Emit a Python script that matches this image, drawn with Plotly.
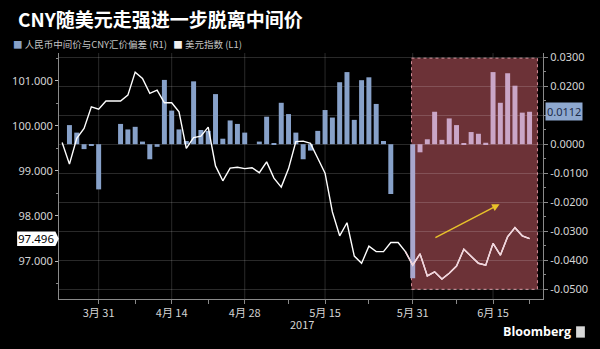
import plotly.graph_objects as go

# ---------------- data ----------------
dates = [
    "03-24", "03-27", "03-28", "03-29", "03-30", "03-31",
    "04-03", "04-04", "04-05", "04-06", "04-07",
    "04-10", "04-11", "04-12", "04-13", "04-14",
    "04-17", "04-18", "04-19", "04-20", "04-21",
    "04-24", "04-25", "04-26", "04-27", "04-28",
    "05-01", "05-02", "05-03", "05-04", "05-05",
    "05-08", "05-09", "05-10", "05-11", "05-12",
    "05-15", "05-16", "05-17", "05-18", "05-19",
    "05-22", "05-23", "05-24", "05-25", "05-26",
    "05-29", "05-30", "05-31", "06-01", "06-02",
    "06-05", "06-06", "06-07", "06-08", "06-09",
    "06-12", "06-13", "06-14", "06-15", "06-16",
    "06-19", "06-20", "06-21", "06-22",
]

# CNY fixing vs spot deviation (R1)
deviation = [
    None, 0.0066, 0.0040, -0.0017, -0.0003, -0.0156,
    None, None, 0.0070, 0.0051, 0.0060,
    0.0009, -0.0052, -0.0009, 0.0222, 0.0116,
    0.0051, 0.0011, 0.0217, 0.0049, 0.0046,
    0.0173, 0.0019, 0.0082, 0.0070, 0.0040,
    None, 0.0009, 0.0095, 0.0002, 0.0143,
    0.0104, 0.0040, -0.0052, -0.0022, 0.0046,
    0.0118, 0.0092, 0.0214, 0.0249, 0.0084,
    0.0221, 0.0231, 0.0139, 0.0011, -0.0172,
    None, None, -0.0463, -0.0028, 0.0017,
    0.0112, 0.0015, 0.0089, 0.0066, 0.0002,
    0.0042, 0.0036, 0.0005, 0.0249, 0.0143,
    0.0245, 0.0202, 0.0109, 0.0112,
]

# Dollar index (L1)
dxy = [
    99.63, 99.15, 99.72, 99.94, 100.42, 100.37,
    100.55, 100.55, 100.55, 100.68, 101.19,
    101.05, 100.72, 100.79, 100.51, 100.51,
    100.31, 99.50, 99.74, 99.77, 99.97,
    99.11, 98.78, 99.06, 99.08, 99.05,
    99.07, 98.96, 99.20, 98.84, 98.64,
    99.05, 99.65, 99.66, 99.61, 99.28,
    98.95, 98.09, 97.56, 97.85, 97.11,
    96.95, 97.33, 97.21, 97.21, 97.41,
    97.41, 97.21, 96.91, 97.16, 96.67,
    96.76, 96.60, 96.73, 96.89, 97.26,
    97.10, 96.95, 96.91, 97.39, 97.13,
    97.54, 97.74, 97.56, 97.496,
]

label_dates = ["03-31", "04-14", "04-28", "05-15", "05-31", "06-15"]
label_text = ["3月 31", "4月 14", "4月 28", "5月 15", "5月 31", "6月 15"]
minor_dates = ["04-07", "04-21", "05-08", "05-23", "06-08", "06-22"]

left_ticks = [97, 98, 99, 100, 101]
right_ticks = [-0.05, -0.04, -0.03, -0.02, -0.01, 0.0, 0.01, 0.02, 0.03]
right_hidden = [0.01]  # covered by the last-value tag

highlight_start = "05-31"
last_dev = deviation[-1]
last_dxy = dxy[-1]

title = "CNY随美元走强进一步脱离中间价"
legend_bar = "人民币中间价与CNY汇价偏差 (R1)"
legend_line = "美元指数 (L1)"

# ---------------- styling ----------------
BLUE = "#87a1c9"
PINK = "#caa6c7"
EDGE = "#a9a7cd"
FONT = "Noto Sans CJK SC"
TICKC = "#d4d4d4"
GRID = "rgba(255,255,255,0.16)"

hl_idx = dates.index(highlight_start)
bar_colors = []
for i in range(len(dates)):
    if i < hl_idx:
        bar_colors.append(BLUE)
    elif i == hl_idx:
        bar_colors.append(EDGE)
    else:
        bar_colors.append(PINK)

fig = go.Figure()

fig.add_trace(go.Bar(
    x=dates, y=deviation, marker=dict(color=bar_colors, line=dict(width=0)),
    width=0.68, yaxis="y", showlegend=False,
))
fig.add_trace(go.Scatter(
    x=dates, y=dxy, mode="lines", line=dict(color="white", width=1.4),
    yaxis="y2", showlegend=False,
))
fig.add_trace(go.Scatter(
    x=dates[hl_idx - 1:], y=dxy[hl_idx - 1:], mode="lines",
    line=dict(color="#f1d3db", width=1.4),
    yaxis="y2", showlegend=False,
))

shapes = []
# highlight rectangle
shapes.append(dict(
    type="rect", xref="x", yref="y", x0=hl_idx - 0.16, x1=len(dates) + 0.08,
    y0=-0.0501, y1=0.0297, layer="below",
    fillcolor="#6c3237", line=dict(color="#d58d98", width=1, dash="dot"),
))
# vertical grid lines at labelled dates
for d in label_dates:
    shapes.append(dict(
        type="line", xref="x", yref="paper", x0=d, x1=d, y0=0, y1=1,
        layer="below", line=dict(color=GRID, width=1),
    ))
# last-value tag on the left axis
yc = last_dxy
shapes.append(dict(
    type="path", xref="paper", yref="y2",
    path=(f"M -0.0865,{yc-0.16} L -0.0075,{yc-0.16} L -0.0005,{yc} "
          f"L -0.0075,{yc+0.16} L -0.0865,{yc+0.16} Z"),
    fillcolor="white", line=dict(width=0),
))
# Bloomberg icon
shapes.append(dict(
    type="rect", xref="paper", yref="paper", x0=1.0684, x1=1.0865,
    y0=-0.157, y1=-0.111, fillcolor="#d8d8d8", line=dict(width=0),
))

annotations = []
annotations.append(dict(
    xref="paper", yref="paper", x=-0.0895, y=1.142, xanchor="left", yanchor="middle",
    text=f"<b>{title}</b>", showarrow=False,
    font=dict(family=FONT, size=19, color="white"),
))
annotations.append(dict(
    xref="paper", yref="paper", x=-0.099, y=1.037, xanchor="left", yanchor="middle",
    text=(f"<span style='color:{BLUE}'>■</span> {legend_bar}&nbsp;&nbsp;&nbsp;"
          f"<span style='color:#f0f0f0'>■</span> {legend_line}"),
    showarrow=False, font=dict(family=FONT, size=9.5, color="#c4c4c4"),
))
annotations.append(dict(
    xref="paper", yref="paper", x=0.503, y=-0.102, xanchor="center", yanchor="middle",
    text="2017", showarrow=False, font=dict(family=FONT, size=11, color=TICKC),
))
annotations.append(dict(
    xref="paper", yref="paper", x=1.062, y=-0.134, xanchor="right", yanchor="middle",
    text="<b>Bloomberg</b>", showarrow=False,
    font=dict(family="Open Sans", size=12.5, color="white"),
))
annotations.append(dict(
    xref="paper", yref="y2", x=-0.047, y=last_dxy, xanchor="center", yanchor="middle",
    text=f"{last_dxy:.3f}", showarrow=False,
    font=dict(family="Noto Sans", size=11.5, color="black"),
))
annotations.append(dict(
    xref="paper", yref="y", x=1.0, y=last_dev, xanchor="left", yanchor="middle",
    xshift=2, text=f"{last_dev:.4f}", showarrow=False, bgcolor="#8ea8cf",
    borderpad=1, font=dict(family="Noto Sans", size=11, color="#1c2c4a"),
))
# trend arrow
annotations.append(dict(
    xref="x", yref="y", axref="x", ayref="y",
    x=59.9, y=-0.0207, ax=50.9, ay=-0.0325, text="", showarrow=True,
    arrowhead=2, arrowsize=1, arrowwidth=1.5, arrowcolor="#e8c22a",
))

fig.update_layout(
    width=600, height=349,
    margin=dict(l=52, r=51, t=53, b=50),
    paper_bgcolor="black", plot_bgcolor="black",
    shapes=shapes, annotations=annotations,
    xaxis=dict(
        type="category", range=[-0.43, 65.84],
        tickvals=label_dates + minor_dates,
        ticktext=label_text + [""] * len(minor_dates),
        ticks="outside", ticklen=4, tickcolor="#8a8a8a",
        showgrid=False, zeroline=False,
        showline=True, linecolor="#8a8a8a", linewidth=1,
        tickfont=dict(family=FONT, size=11, color=TICKC),
    ),
    yaxis=dict(
        side="right", range=[-0.05345, 0.03149],
        tickvals=right_ticks,
        ticktext=["" if v in right_hidden else f"{v:.4f}" for v in right_ticks],
        ticks="outside", ticklen=4, tickcolor="#8a8a8a",
        minor=dict(dtick=0.005, ticks="outside", ticklen=2, tickcolor="#8a8a8a", showgrid=False),
        showgrid=True, gridcolor=GRID, gridwidth=1, zeroline=False,
        showline=True, linecolor="#8a8a8a", linewidth=1,
        tickfont=dict(family="Noto Sans", size=11, color=TICKC),
    ),
    yaxis2=dict(
        side="left", overlaying="y", range=[96.158, 101.615],
        tickvals=left_ticks, ticktext=[f"{v:.3f}" for v in left_ticks],
        ticks="outside", ticklen=3, tickcolor="#bbbbbb",
        minor=dict(dtick=0.5, ticks="outside", ticklen=2, tickcolor="#8a8a8a", showgrid=False),
        showgrid=False, zeroline=False,
        showline=True, linecolor="#8a8a8a", linewidth=1,
        tickfont=dict(family="Noto Sans", size=11, color=TICKC),
    ),
)

fig.write_html("out.html")
